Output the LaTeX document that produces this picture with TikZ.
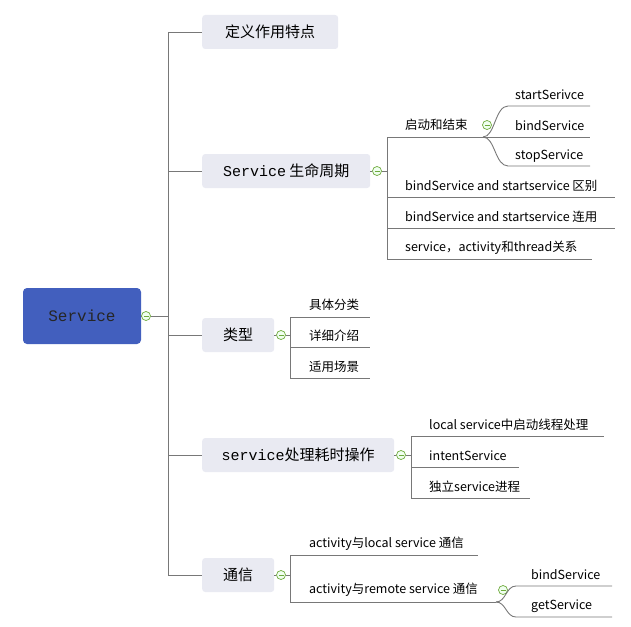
\documentclass[tikz,border=0pt]{standalone}
\usepackage{fontspec}
\setmainfont{Noto Sans CJK SC}
\newfontfamily\monofnt{Liberation Mono}
\definecolor{rootc}{RGB}{66,95,190}
\definecolor{boxc}{RGB}{233,234,242}
\definecolor{linec}{RGB}{120,120,120}
\definecolor{minc}{RGB}{110,170,60}
\begin{document}
\begin{tikzpicture}[x=1pt,y=-1pt,
  ln/.style={draw=linec,line width=0.9pt},
  branch/.style={fill=boxc,rounded corners=3pt,minimum height=34pt,inner xsep=0pt,font=\fontsize{15}{15}\selectfont,anchor=west},
  leaf/.style={anchor=west,inner sep=0pt,font=\fontsize{12.5}{13}\selectfont},
  tog/.style={circle,draw=minc,fill=green!6,line width=0.7pt,minimum size=9pt,inner sep=0pt,path picture={\draw[minc,line width=0.8pt](path picture bounding box.west)++(2pt,0)--++(5pt,0);}}]
\useasboundingbox (0,0) rectangle (631,626);
% root
\node[fill=rootc,rounded corners=4pt,minimum width=118pt,minimum height=56pt,font=\monofnt\fontsize{16}{16}\selectfont,text=black!85] (root) at (82,316) {Service};
\node[tog] (t0) at (146,316) {};
\draw[ln] (root.east)--(t0);
\coordinate (s1) at (168,32); \coordinate (s5) at (168,575);
\draw[ln] (s1)--(s5);
\draw[ln] (t0)--(168,316);
% branches
\node[branch,minimum width=136pt] (b1) at (202,32) {定义作用特点};
\node[branch,minimum width=168pt] (b2) at (202,171) {{\monofnt Service} 生命周期};
\node[branch,minimum width=72pt] (b3) at (202,335) {类型};
\node[branch,minimum width=192pt] (b4) at (202,455) {{\monofnt service}处理耗时操作};
\node[branch,minimum width=72pt] (b5) at (202,575) {通信};
\foreach \b/\y in {b1/32,b2/171,b3/335,b4/455,b5/575} \draw[ln] (168,\y)--(\b.west);
% group 2
\node[tog] (t2) at (377,171) {};
\draw[ln] (b2.east)--(t2);
\draw[ln] (t2)--(387,171);
\draw[ln] (387,137)--(387,259);
\node[leaf] (l21) at (405,125) {启动和结束};
\node[tog] (t21) at (487,125) {};
\draw[ln] (387,137)--(483,137);
\node[leaf] (l211) at (515,95) {startSerivce};
\node[leaf] (l212) at (515,126) {bindService};
\node[leaf] (l213) at (515,156) {stopService};
\draw[ln] (483,137) .. controls (495,137) and (495,106) .. (508,106) -- (590,106);
\draw[ln] (483,137) -- (590,137);
\draw[ln] (483,137) .. controls (495,137) and (495,166) .. (508,166) -- (590,166);
\node[leaf] (l22) at (405,186) {bindService and startservice 区别};
\draw[ln] (387,197)--(615,197);
\node[leaf] (l23) at (405,217) {bindService and startservice 连用};
\draw[ln] (387,228)--(615,228);
\node[leaf] (l24) at (405,248) {service，activity和thread关系};
\draw[ln] (387,259)--(592,259);
% group 3
\node[tog] (t3) at (281,335) {};
\draw[ln] (b3.east)--(t3)--(290,335);
\draw[ln] (290,317)--(290,378);
\node[leaf] (l31) at (309,305) {具体分类};
\node[leaf] (l32) at (309,336) {详细介绍};
\node[leaf] (l33) at (309,367) {适用场景};
\draw[ln] (290,317)--(370,317);
\draw[ln] (290,347)--(370,347);
\draw[ln] (290,378)--(370,378);
% group 4
\node[tog] (t4) at (401,455) {};
\draw[ln] (b4.east)--(t4)--(411,455);
\draw[ln] (411,436)--(411,498);
\node[leaf] (l41) at (429,425) {local service中启动线程处理};
\node[leaf] (l42) at (429,456) {intentService};
\node[leaf] (l43) at (429,487) {独立service进程};
\draw[ln] (411,436)--(604,436);
\draw[ln] (411,467)--(519,467);
\draw[ln] (411,498)--(530,498);
% group 5
\node[tog] (t5) at (281,575) {};
\draw[ln] (b5.east)--(t5)--(290,575);
\draw[ln] (290,555)--(290,602);
\node[leaf] (l51) at (309,544) {activity与local service 通信};
\node[leaf] (l52) at (309,590) {activity与remote service 通信};
\draw[ln] (290,555)--(478,555);
\draw[ln] (290,602)--(496,602);
\node[tog] (t51) at (503,590) {};
\node[leaf] (l521) at (531,575) {bindService};
\node[leaf] (l522) at (531,606) {getService};
\draw[ln] (496,602) .. controls (506,602) and (506,586) .. (516,586) -- (612,586);
\draw[ln] (496,602) .. controls (506,602) and (506,617) .. (516,617) -- (612,617);
\end{tikzpicture}
\end{document}
